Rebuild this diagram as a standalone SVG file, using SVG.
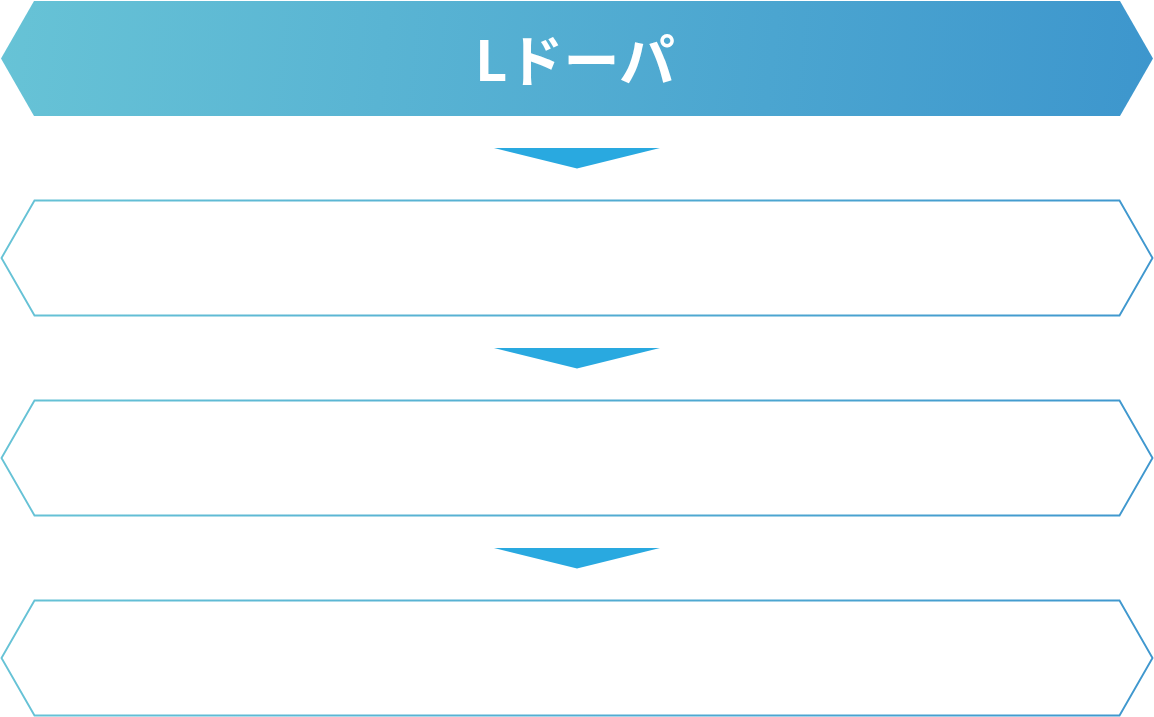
<svg xmlns="http://www.w3.org/2000/svg" width="1154" height="717" viewBox="0 0 1154 717">
<defs>
<linearGradient id="gFill" x1="0" y1="0" x2="1154" y2="117" gradientUnits="userSpaceOnUse">
<stop offset="0" stop-color="#67c3d6"/>
<stop offset="1" stop-color="#3d96cd"/>
</linearGradient>
<linearGradient id="gStroke" x1="0" y1="0" x2="1" y2="0">
<stop offset="0" stop-color="#67c3d6"/>
<stop offset="1" stop-color="#3f97ce"/>
</linearGradient>
<style>
.box{fill:#ffffff;stroke:url(#gStroke);stroke-width:1.9}
.arr{fill:#29a9e0}
.title{font-family:"Noto Sans CJK JP","Noto Sans",sans-serif;font-weight:bold;font-size:56px;fill:#ffffff}
</style>
</defs>
<g id="header">
<polygon points="34,1 1120,1 1153,58.5 1120,116 34,116 1,58.5" fill="url(#gFill)"/>
<text class="title" x="575" y="81" text-anchor="middle">Lドーパ</text>
</g>
<g id="box1"><polygon class="box" points="34.5,200.5 1119.5,200.5 1152.5,258 1119.5,315.5 34.5,315.5 1.5,258"/></g>
<g id="box2"><polygon class="box" points="34.5,400.5 1119.5,400.5 1152.5,458 1119.5,515.5 34.5,515.5 1.5,458"/></g>
<g id="box3"><polygon class="box" points="34.5,600.5 1119.5,600.5 1152.5,658 1119.5,715.5 34.5,715.5 1.5,658"/></g>
<g id="connectors">
<polygon class="arr" points="494,148 660,148 577,168.5"/>
<polygon class="arr" points="494,348 660,348 577,368.5"/>
<polygon class="arr" points="494,548 660,548 577,568.5"/>
</g>
</svg>
